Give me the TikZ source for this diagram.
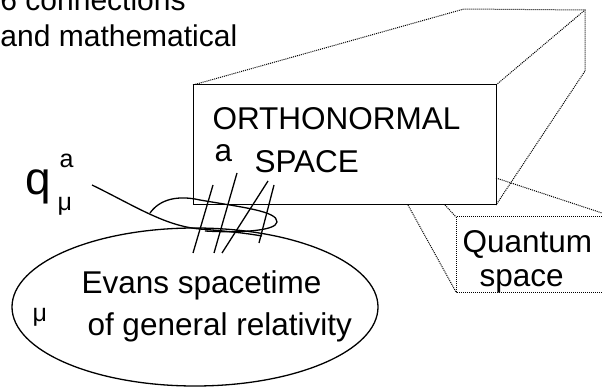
\documentclass[tikz,border=0pt]{standalone}
\usepackage{fontspec}
\setmainfont{Liberation Sans}
\usetikzlibrary{positioning}

\begin{document}
\begin{tikzpicture}[x=1pt,y=-1pt,line width=1pt,
  lbl/.style={anchor=base west,inner sep=0pt,font=\fontsize{31.5}{36}\selectfont},
  captxt/.style={anchor=base west,inner sep=0pt,font=\fontsize{30}{36}\selectfont},
  sml/.style={anchor=base west,inner sep=0pt,font=\fontsize{25}{30}\selectfont},
  dots/.style={dash pattern=on 1pt off 1pt,line width=1pt},
  curve/.style={line width=1.3pt}]
\useasboundingbox (0,0) rectangle (602,387);
% caption lines, cut at the top
\node[captxt] (cap1) at (0,11) {6 connections};
\node[captxt] (cap2) at (0,47) {and mathematical};
% orthonormal space box and its dotted depth
\coordinate (otl) at (193,85);
\coordinate (otr) at (496,85);
\coordinate (obr) at (496,205);
\coordinate (bkl) at (464,9);
\coordinate (bkr) at (585,10);
\coordinate (bkb) at (585,71);
\draw (otl) rectangle (obr);
\draw[dots] (otl) -- (bkl) -- (bkr) -- (bkb) -- (obr);
\draw[dots] (otr) -- (bkr);
\node[lbl] (orth) at (212,130) {ORTHONORMAL};
\node[lbl] (spc) at (254,173) {SPACE};
\node[lbl] (ai) at (214,162) {a};
% quantum space box
\coordinate (qtl) at (456,217);
\coordinate (qbl) at (456,292);
\draw[dots] (602,217) -- (qtl) -- (qbl) -- (602,292);
\draw[dots] (445,205) -- (qtl);
\draw[dots] (408,205) -- (qbl);
\draw[dots] (496,178) -- (602,213);
\node[lbl] (qua) at (462,253) {Quantum};
\node[lbl] (qsp) at (479,287) {space};
% tetrad q
\node[anchor=base west,inner sep=0pt,font=\fontsize{46}{50}\selectfont] (q) at (25,195) {q};
\node[sml] (qa) at (59,168) {a};
\node[sml] (qmu) at (57,211) {μ};
% spacetime ellipse
\draw[curve] (195,307) ellipse [x radius=183pt,y radius=79pt];
\node[sml] (emu) at (32,321) {μ};
\node[lbl] (ev1) at (81,294) {Evans spacetime};
\node[lbl] (ev2) at (87,335) {of general relativity};
% curve, tangent loop and hatching
\draw[curve] (92,185) .. controls (135,206) and (165,226) .. (200,229)
  .. controls (225,231) and (245,233) .. (262,236);
\draw[curve] (150,213) .. controls (160,199) and (178,195) .. (200,200)
  .. controls (240,207) and (278,211) .. (277,222)
  .. controls (276,231) and (240,233) .. (205,231);
\draw[curve] (213,185) -- (193,253);
\draw[curve] (237,173) -- (214,253);
\draw[curve] (268,181) -- (222,253);
\draw[curve] (274,185) -- (259,243);
\end{tikzpicture}
\end{document}
